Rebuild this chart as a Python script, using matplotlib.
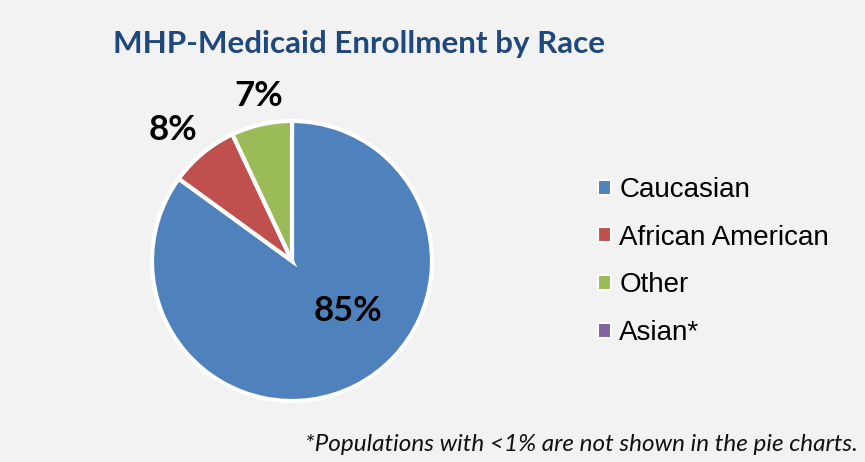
import matplotlib.pyplot as plt
from matplotlib.patches import Patch

categories = ['Caucasian', 'African American', 'Other', 'Asian*']
values = [85, 8, 7, 0]
colors = ['#4f81bd', '#c0504d', '#9bbb59', '#8064a2']
labels = ['85%', '8%', '7%', '']

bg = '#f2f2f2'
fig = plt.figure(figsize=(8.65, 4.62), dpi=100, facecolor=bg)
ax = fig.add_axes([0.0, 0.0, 1.0, 1.0])
ax.set_facecolor(bg)

# only slices above 0 are drawn, the legend keeps all categories
shown = [i for i, v in enumerate(values) if v > 0]
wedges, texts = ax.pie([values[i] for i in shown],
                       colors=[colors[i] for i in shown],
                       labels=[labels[i] for i in shown],
                       startangle=90, counterclock=False,
                       labeldistance=1.21, radius=1.0, center=(0, 0),
                       wedgeprops=dict(edgecolor='white', linewidth=3),
                       textprops=dict(fontsize=25, fontweight='bold', family='Lato'))
for t in texts:
    t.set_ha('center')
    t.set_va('center')
# the big slice gets its label inside, like the original
texts[0].set_position((0.4, -0.36))
x8, y8 = texts[1].get_position()
texts[1].set_position((x8 - 0.08, y8))
x7, y7 = texts[2].get_position()
texts[2].set_position((x7 + 0.03, y7))
ax.set_aspect('equal')
# place the pie: center ~ (292, 261) px, radius ~140 px
W, H = 865, 462
cx, cy, r = 292, 261, 140
ax.set_xlim(-cx / r, (W - cx) / r)
ax.set_ylim(-(H - cy) / r, cy / r)
ax.axis('off')

handles = [Patch(facecolor=c, edgecolor='white', linewidth=1.5) for c in colors]
fig.legend(handles, categories, loc='center left', bbox_to_anchor=(0.663, 0.434),
           frameon=False, prop=dict(family='Liberation Sans', size=20),
           handlelength=0.45, handleheight=0.45, handletextpad=0.3,
           labelspacing=0.78)

fig.text(0.415, 0.905, 'MHP-Medicaid Enrollment by Race', ha='center', va='center',
         fontsize=22.6, fontweight='bold', family='Lato', color='#1f497d')
fig.text(0.992, 0.037, '*Populations with <1% are not shown in the pie charts.',
         ha='right', va='center', fontsize=17.5, style='italic', family='Lato',
         color='#111111')

fig.savefig('out.png', dpi=100, facecolor=bg)
